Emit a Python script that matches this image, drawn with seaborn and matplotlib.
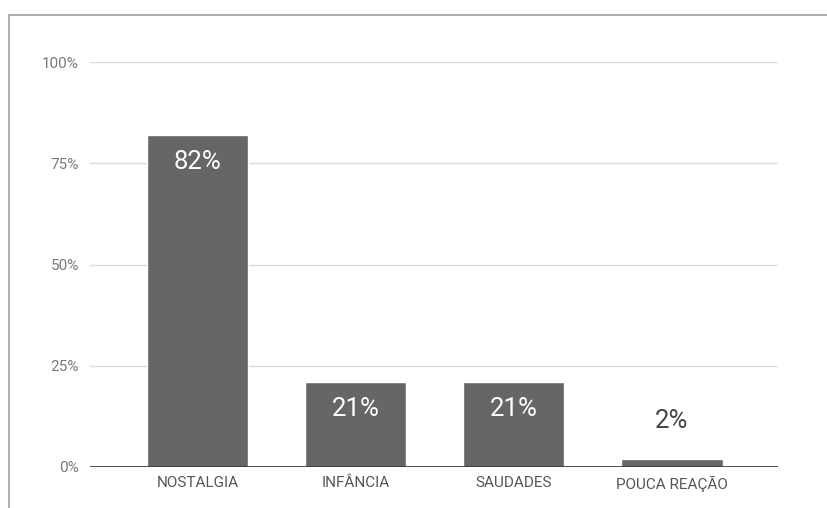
import matplotlib
matplotlib.use("Agg")
import matplotlib.pyplot as plt
import seaborn as sns
import pandas as pd
from matplotlib.lines import Line2D

categories = ["NOSTALGIA", "INFÂNCIA", "SAUDADES", "POUCA REAÇÃO"]
values = [0.82, 0.21, 0.21, 0.02]
value_labels = ["82%", "21%", "21%", "2%"]
yticks = [0, 0.25, 0.5, 0.75, 1.0]
ytick_labels = ["0%", "25%", "50%", "75%", "100%"]

sns.set_theme(style="white")
plt.rcParams['font.family'] = ['Roboto', 'DejaVu Sans']

df = pd.DataFrame({"cat": categories, "val": values})

fig = plt.figure(figsize=(8.27, 5.08), dpi=100)
ax = fig.add_axes([90/827, 1-467/508, (778-90)/827, (467-62)/508])

sns.barplot(data=df, x="cat", y="val", color="#666666", width=0.64,
            saturation=1, ax=ax, zorder=3)

ax.set_xlim(-0.68, 3.67)
ax.set_ylim(0, 1)
ax.set_yticks(yticks)
ax.set_yticklabels(ytick_labels, color="#7a7a7a", fontsize=11)
ax.tick_params(axis="y", length=0, pad=8)
ax.tick_params(axis="x", length=0, pad=6.5, labelsize=11, labelcolor="#555555")
ax.set_xlabel("")
ax.set_ylabel("")
for s in ax.spines.values():
    s.set_visible(False)
ax.grid(axis="y", color="#d9d9d9", linewidth=1, zorder=0)
ax.axhline(0, color="#333333", linewidth=1.2, zorder=4)

for i, (v, lab) in enumerate(zip(values, value_labels)):
    if v > 0.1:
        ax.annotate(lab, (i, v), xytext=(0, -19.5), textcoords="offset points",
                    ha="center", va="center", color="white", fontsize=18.5)
    else:
        ax.annotate(lab, (i, v), xytext=(0, 27), textcoords="offset points",
                    ha="center", va="center", color="#444444", fontsize=18.5)

# outer frame (top and left edges)
fig.add_artist(Line2D([9/827, 1.0], [1-15/508, 1-15/508], color="#a0a0a0", linewidth=1.2))
fig.add_artist(Line2D([9/827, 9/827], [0, 1-15/508], color="#a0a0a0", linewidth=1.2))

fig.savefig("out.png", dpi=100, facecolor="white")
